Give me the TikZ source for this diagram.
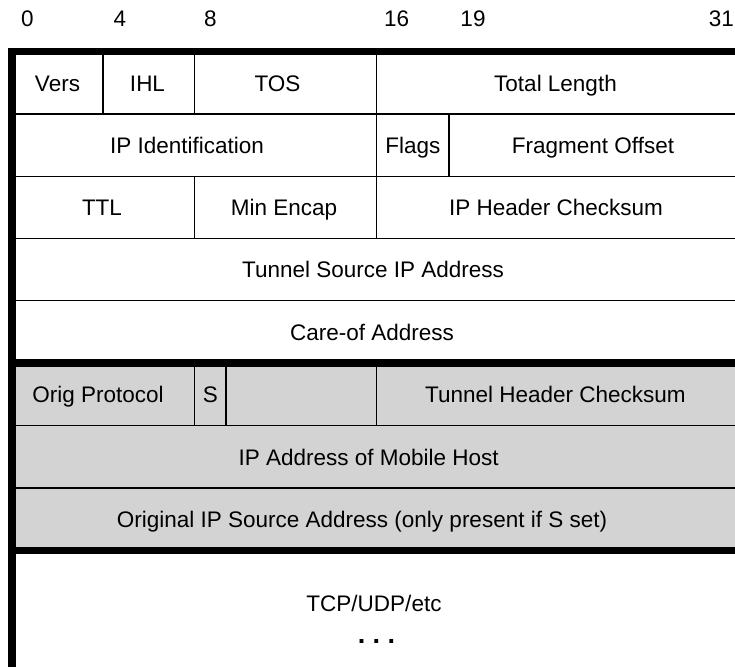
\documentclass[tikz,border=0pt]{standalone}
\usepackage{fontspec}
\setmainfont{Liberation Sans}
\definecolor{hdrgray}{RGB}{211,211,211}
\begin{document}
\begin{tikzpicture}[x=1pt,y=-1pt,
  thinline/.style={line width=1.5pt},
  thickline/.style={line width=7.5pt},
  lbl/.style={anchor=base,inner sep=0pt,font=\fontsize{22.5}{27}\selectfont},
  dots/.style={anchor=base,inner sep=0pt,font=\fontsize{27}{30}\selectfont\bfseries}]
\useasboundingbox (0,0) rectangle (735,666);
\clip (0,0) rectangle (735,666);
% gray area
\fill[hdrgray] (12,363) rectangle (745,550.5);
% thin horizontal lines
\draw[thinline] (12,114) -- (745,114);
\draw[thinline] (12,176.3) -- (745,176.3);
\draw[thinline] (12,238.3) -- (745,238.3);
\draw[thinline] (12,300.5) -- (745,300.5);
\draw[thinline] (12,425.7) -- (745,425.7);
\draw[thinline] (12,488) -- (745,488);
% thin vertical lines
\draw[thinline] (103,51.7) -- (103,114);
\draw[thinline] (194.5,51.7) -- (194.5,114);
\draw[thinline] (376.7,51.7) -- (376.7,238.3);
\draw[thinline] (449,114) -- (449,176.3);
\draw[thinline] (194.5,176.3) -- (194.5,238.3);
\draw[thinline] (194.5,363) -- (194.5,425.7);
\draw[thinline] (226,363) -- (226,425.7);
\draw[thinline] (376.7,363) -- (376.7,425.7);
% thick lines
\draw[thickline] (12,48) -- (12,670);
\draw[thickline] (8.3,51.7) -- (745,51.7);
\draw[thickline] (12,363) -- (745,363);
\draw[thickline] (12,550.5) -- (745,550.5);
% bit numbers
\node[lbl] (b0) at (27.5,26.7) {0};
\node[lbl] (b4) at (120,26.7) {4};
\node[lbl] (b8) at (210.5,26.7) {8};
\node[lbl] (b16) at (396.7,26.7) {16};
\node[lbl] (b19) at (473,26.7) {19};
\node[lbl,anchor=base east] (b31) at (734,26.7) {31};
% row 1
\node[lbl] (vers) at (57.5,91.5) {Vers};
\node[lbl] (ihl) at (147.5,91.5) {IHL};
\node[lbl] (tos) at (277.5,91.5) {TOS};
\node[lbl] (tlen) at (555.5,91.5) {Total Length};
% row 2
\node[lbl] (ipid) at (187,153.6) {IP Identification};
\node[lbl] (flags) at (412.8,153.6) {Flags};
\node[lbl] (frag) at (593,153.6) {Fragment Offset};
% row 3
\node[lbl] (ttl) at (102,215.8) {TTL};
\node[lbl] (minenc) at (284,215.8) {Min Encap};
\node[lbl] (ipcs) at (556,215.8) {IP Header Checksum};
% row 4-5
\node[lbl] (tsrc) at (373,277.9) {Tunnel Source IP Address};
\node[lbl] (coa) at (372,340.2) {Care-of Address};
% row 6
\node[lbl] (orig) at (98,402.8) {Orig Protocol};
\node[lbl] (sbit) at (210.3,402.8) {S};
\node[lbl] (thcs) at (555.5,402.8) {Tunnel Header Checksum};
% row 7-8
\node[lbl] (mh) at (368.7,465.3) {IP Address of Mobile Host};
\node[lbl] (osrc) at (362,527.7) {Original IP Source Address (only present if S set)};
% payload
\node[lbl] (tcp) at (374,611.7) {TCP/UDP/etc};
\node[dots] (etc) at (376.5,643.5) {.\ .\ .};
\end{tikzpicture}
\end{document}
